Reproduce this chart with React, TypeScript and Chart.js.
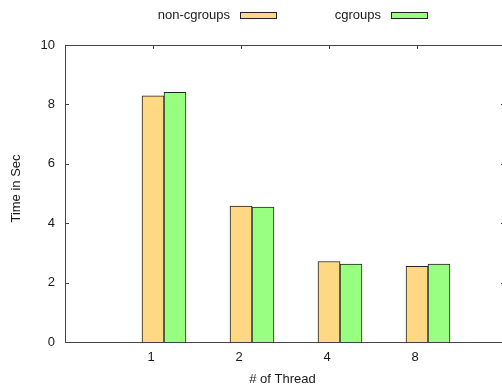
import { useEffect, useRef } from 'react';
import { Chart, registerables } from 'chart.js';

Chart.register(...registerables);

const categories = ['1', '2', '4', '8'];
const nonCgroups = [8.29, 4.58, 2.71, 2.55];
const cgroups = [8.41, 4.54, 2.62, 2.62];
const seriesLabels = ['non-cgroups', 'cgroups'];
const yTicks = [0, 2, 4, 6, 8, 10];
const xTitle = '# of Thread';
const yTitle = 'Time in Sec';

const FONT = '"Liberation Sans", Arial, sans-serif';
const TEXT = '#1a1a1a';
const AXIS = '#444444';
const COLORS = ['#FFD884', '#99FF80'];

const framePlugin = {
  id: 'frame',
  beforeDatasetsDraw(chart: any) {
    const { ctx, chartArea: a, scales } = chart;
    const x = scales.x;
    const y = scales.y;
    const right = x.getPixelForValue(4);
    ctx.save();
    ctx.strokeStyle = AXIS;
    ctx.lineWidth = 1;
    ctx.beginPath();
    yTicks.forEach((v) => {
      const py = Math.round(y.getPixelForValue(v)) + 0.5;
      ctx.moveTo(a.left, py);
      ctx.lineTo(a.left + 4, py);
      ctx.moveTo(right - 4, py);
      ctx.lineTo(right, py);
    });
    categories.forEach((_, i) => {
      const px = Math.round(x.getPixelForValue(i)) + 0.5;
      ctx.moveTo(px, a.top);
      ctx.lineTo(px, a.top + 4);
      ctx.moveTo(px, a.bottom);
      ctx.lineTo(px, a.bottom - 4);
    });
    ctx.stroke();
    ctx.restore();
  },
  afterDatasetsDraw(chart: any) {
    const { ctx, chartArea: a, scales } = chart;
    const x = scales.x;
    const right = x.getPixelForValue(4);
    ctx.save();
    ctx.strokeStyle = AXIS;
    ctx.lineWidth = 1;
    ctx.beginPath();
    ctx.moveTo(a.left + 0.5, a.top + 0.5);
    ctx.lineTo(right, a.top + 0.5);
    ctx.moveTo(a.left + 0.5, a.top + 0.5);
    ctx.lineTo(a.left + 0.5, a.bottom + 0.5);
    ctx.lineTo(right, a.bottom + 0.5);
    ctx.moveTo(right - 0.5, a.top);
    ctx.lineTo(right - 0.5, a.bottom);
    ctx.stroke();

    // legend
    ctx.font = `13px ${FONT}`;
    ctx.fillStyle = TEXT;
    ctx.textBaseline = 'middle';
    ctx.textAlign = 'right';
    seriesLabels.forEach((label, i) => {
      const textRight = 230 + 151 * i;
      const sx = 240 + 151 * i;
      ctx.fillStyle = TEXT;
      ctx.fillText(label, textRight, 15);
      ctx.fillStyle = COLORS[i];
      ctx.fillRect(sx, 12, 37, 7);
      ctx.strokeStyle = '#222';
      ctx.strokeRect(sx + 0.5, 12.5, 36, 6);
    });

    // titles
    ctx.fillStyle = TEXT;
    ctx.textAlign = 'center';
    ctx.textBaseline = 'alphabetic';
    ctx.fillText(xTitle, 282.5, 383);
    ctx.translate(20, 188.5);
    ctx.rotate(-Math.PI / 2);
    ctx.fillText(yTitle, 0, 0);
    ctx.restore();
  },
};

export default function App() {
  const ref = useRef<HTMLCanvasElement | null>(null);
  useEffect(() => {
    if (!ref.current) return;
    const makeData = (vals: number[]) => vals.map((v, i) => ({ x: i + 0.125, y: v }));
    const chart = new Chart(ref.current, {
      type: 'bar',
      data: {
        datasets: [
          {
            label: seriesLabels[0],
            data: makeData(nonCgroups),
            backgroundColor: COLORS[0],
            borderColor: '#222',
            borderWidth: 1,
            barThickness: 22,
          },
          {
            label: seriesLabels[1],
            data: makeData(cgroups),
            backgroundColor: COLORS[1],
            borderColor: '#222',
            borderWidth: 1,
            barThickness: 22,
          },
        ],
      } as any,
      options: {
        animation: false,
        responsive: false,
        devicePixelRatio: 1,
        layout: { padding: { top: 45, left: 0, right: 0, bottom: 0 } },
        plugins: { legend: { display: false }, tooltip: { enabled: false } },
        scales: {
          x: {
            type: 'linear',
            offset: false,
            min: -1,
            max: -1 + 437 / 88,
            grid: { display: false, drawTicks: false },
            border: { display: false },
            afterBuildTicks: (scale: any) => {
              scale.ticks = categories.map((_, i) => ({ value: i }));
            },
            afterFit: (scale: any) => {
              scale.height = 45;
            },
            ticks: {
              autoSkip: false,
              maxRotation: 0,
              padding: 8,
              labelOffset: -2,
              color: TEXT,
              font: { family: FONT, size: 13 },
              callback: (v: any) => categories[v] ?? '',
            },
          },
          y: {
            min: 0,
            max: 10,
            grid: { display: false, drawTicks: false },
            border: { display: false },
            afterBuildTicks: (scale: any) => {
              scale.ticks = yTicks.map((v) => ({ value: v }));
            },
            afterFit: (scale: any) => {
              scale.width = 65;
            },
            ticks: {
              padding: 10,
              color: TEXT,
              font: { family: FONT, size: 13 },
            },
          },
        },
      },
      plugins: [framePlugin],
    });
    return () => chart.destroy();
  }, []);
  return (
    <div style={{ position: 'absolute', left: 0, top: 0, width: 502, height: 387 }}>
      <canvas ref={ref} width={502} height={387} style={{ width: 502, height: 387 }} />
    </div>
  );
}
